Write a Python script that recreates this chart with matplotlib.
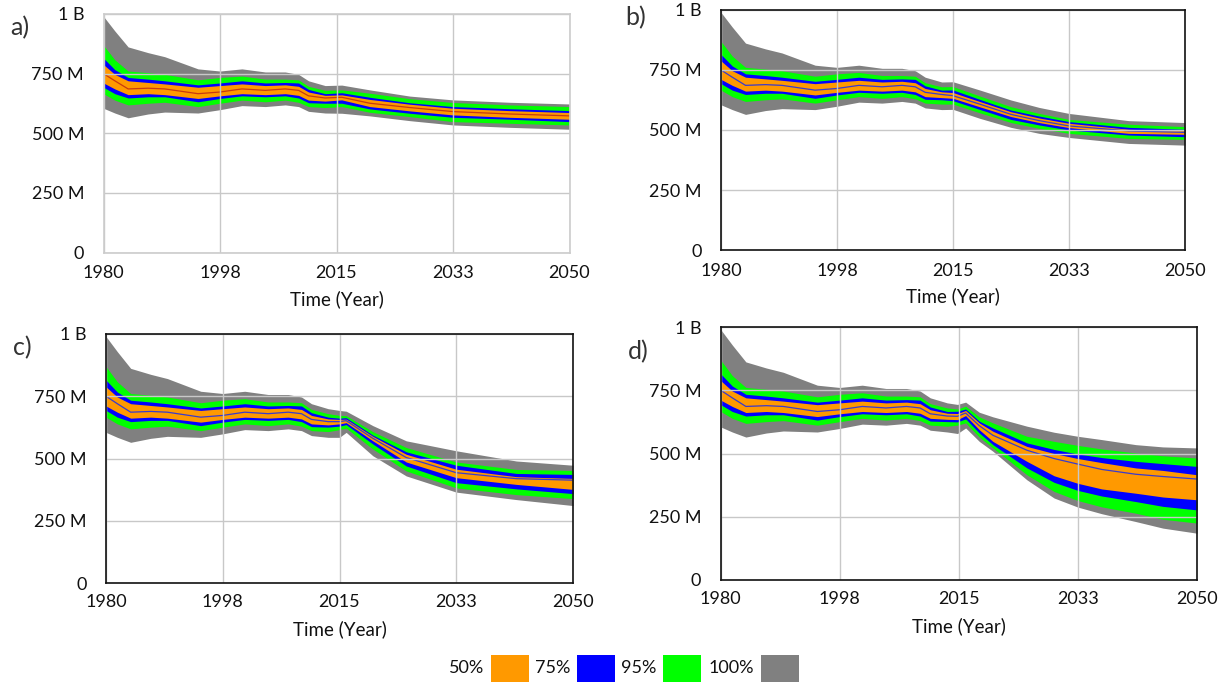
import matplotlib
matplotlib.use("Agg")
import matplotlib.pyplot as plt
from matplotlib.patches import Rectangle

plt.rcParams['font.family'] = ['Lato', 'DejaVu Sans']

# ---- Population confidence bands (millions) ----
# Shared historical run, 1980-2013
hist_years = [1980, 1981.7, 1983.7, 1986.7, 1989.2, 1994.2, 1997.5, 2000.8, 2004.3, 2007.3, 2009.3, 2010.8, 2013.3]
hist_hi100 = [990, 929, 862, 838, 821, 770, 761, 770, 757, 757, 747, 720, 700]
hist_hi95 = [869, 808, 761, 754, 747, 724, 734, 740, 727, 727, 724, 697, 680]
hist_hi75 = [815, 767, 734, 727, 720, 703, 711, 720, 711, 713, 711, 684, 666]
hist_hi50 = [788, 747, 720, 713, 707, 693, 700, 707, 700, 703, 697, 673, 659]
hist_med = [750, 720, 686, 689, 686, 666, 673, 686, 680, 686, 680, 657, 648]
hist_lo50 = [711, 686, 662, 666, 662, 646, 657, 666, 662, 666, 659, 639, 635]
hist_lo75 = [693, 666, 648, 653, 653, 632, 646, 657, 653, 657, 648, 628, 626]
hist_lo95 = [666, 639, 619, 626, 630, 612, 626, 639, 632, 639, 630, 612, 608]
hist_lo100 = [605, 585, 565, 581, 589, 585, 599, 616, 612, 619, 612, 592, 585]

# Scenario a
a_years = [2015.8, 2020, 2026, 2032.5, 2041, 2050]
a_hi100 = [702, 682, 656, 640, 630, 623]
a_hi95 = [682, 668, 645, 629, 619, 612]
a_hi75 = [670, 651, 628, 612, 603, 595]
a_hi50 = [661, 642, 622, 605, 595, 587]
a_med = [651, 626, 608, 591, 581, 573]
a_lo50 = [640, 612, 594, 577, 567, 559]
a_lo75 = [626, 602, 584, 567, 559, 549]
a_lo95 = [612, 588, 570, 549, 542, 535]
a_lo100 = [584, 573, 553, 535, 525, 517]

# Scenario b
b_years = [2015, 2019, 2023.75, 2028, 2032.5, 2041.5, 2050]
b_hi100 = [701, 667, 625, 594, 569, 539, 531]
b_hi95 = [681, 642, 597, 569, 544, 524, 514]
b_hi75 = [667, 628, 583, 558, 535, 511, 503]
b_hi50 = [656, 619, 576, 550, 528, 503, 497]
b_med = [643, 608, 565, 539, 517, 496, 490]
b_lo50 = [632, 597, 556, 531, 510, 486, 482]
b_lo75 = [622, 586, 544, 521, 500, 479, 472]
b_lo95 = [608, 572, 531, 507, 486, 465, 461]
b_lo100 = [586, 549, 511, 486, 469, 444, 437]

# Scenario c
c_years = [2015, 2016, 2020, 2025, 2032.5, 2041.5, 2050]
c_hi100 = [693, 690, 632, 571, 531, 490, 473]
c_hi95 = [673, 672, 608, 544, 486, 456, 452]
c_hi75 = [662, 664, 594, 527, 473, 440, 436]
c_hi50 = [657, 658, 589, 517, 457, 427, 420]
c_med = [648, 652, 581, 504, 443, 419, 413]
c_lo50 = [639, 644, 571, 486, 423, 396, 376]
c_lo75 = [630, 636, 558, 470, 403, 378, 359]
c_lo95 = [616, 622, 538, 450, 382, 355, 339]
c_lo100 = [585, 605, 511, 430, 365, 335, 311]

# Scenario d
d_years = [2014.8, 2016, 2018, 2020, 2025, 2029, 2032.5, 2036, 2041, 2045, 2050]
d_hi100 = [694, 703, 663, 645, 608, 584, 568, 555, 535, 526, 522]
d_hi95 = [676, 687, 645, 621, 568, 548, 532, 518, 502, 491, 482]
d_hi75 = [667, 676, 628, 601, 542, 516, 498, 484, 469, 460, 449]
d_hi50 = [658, 670, 621, 588, 528, 500, 480, 464, 443, 433, 416]
d_med = [647, 660, 610, 572, 513, 480, 458, 437, 418, 409, 399]
d_lo50 = [634, 650, 594, 548, 469, 412, 382, 360, 343, 328, 317]
d_lo75 = [625, 637, 581, 535, 443, 386, 354, 332, 310, 291, 277]
d_lo95 = [612, 621, 565, 522, 416, 350, 314, 289, 264, 240, 225]
d_lo100 = [579, 601, 548, 509, 396, 324, 288, 262, 231, 205, 185]

year_ticks = [1980, 1997.5, 2015, 2032.5, 2050]
year_labels = ["1980", "1998", "2015", "2033", "2050"]
pop_ticks = [0, 250, 500, 750, 1000]
pop_labels = ["0", "250 M", "500 M", "750 M", "1 B"]
band_labels = ["50%", "75%", "95%", "100%"]

C50, C75, C95, C100 = "#FF9900", "#0000FF", "#00FF00", "#808080"
W, H = 1228, 683

fig = plt.figure(figsize=(W / 100, H / 100), dpi=100)


def frac(left, right, y0, y1):
    """Axes rectangle from pixel edges (y0 = bottom, y1 = top)."""
    return [left / W, 1 - y0 / H, (right - left) / W, (y0 - y1) / H]


def panel(rect, years, hi100, hi95, hi75, hi50, med, lo50, lo75, lo95, lo100,
          spine_color, med_color, xpad, xlabpad):
    ax = fig.add_axes(rect)
    x = hist_years + years
    pairs = [(hist_lo100 + lo100, hist_hi100 + hi100, C100),
             (hist_lo95 + lo95, hist_hi95 + hi95, C95),
             (hist_lo75 + lo75, hist_hi75 + hi75, C75),
             (hist_lo50 + lo50, hist_hi50 + hi50, C50)]
    for lo, hi, col in pairs:
        ax.fill_between(x, lo, hi, color=col, lw=0, zorder=1)
    ax.plot(x, hist_med + med, color=med_color, lw=0.9, zorder=2)
    ax.set_xlim(1980, 2050)
    ax.set_ylim(0, 1000)
    ax.set_xticks(year_ticks, year_labels)
    ax.set_yticks(pop_ticks, pop_labels)
    ax.grid(True, color="#c8c8c8", lw=1.0, zorder=3)
    ax.set_axisbelow(False)
    ax.tick_params(axis="both", length=0, labelsize=13, colors="#111111")
    ax.tick_params(axis="y", pad=14)
    ax.tick_params(axis="x", pad=xpad)
    ax.set_xlabel("Time (Year)", fontsize=13.5, color="#111111", labelpad=xlabpad)
    for s in ax.spines.values():
        s.set_color(spine_color)
        s.set_linewidth(1.2)
        s.set_zorder(4)
    return ax


panel(frac(103.5, 569.5, 252.6, 14), a_years, a_hi100, a_hi95, a_hi75, a_hi50,
      a_med, a_lo50, a_lo75, a_lo95, a_lo100, "#cccccc", "#c83a10", 9, 6.5)
panel(frac(721, 1185, 250, 10), b_years, b_hi100, b_hi95, b_hi75, b_hi50,
      b_med, b_lo50, b_lo75, b_lo95, b_lo100, "#111111", "#3a3acc", 9, 6.5)
panel(frac(106, 573, 583, 334), c_years, c_hi100, c_hi95, c_hi75, c_hi50,
      c_med, c_lo50, c_lo75, c_lo95, c_lo100, "#111111", "#3a3acc", 8, 7)
panel(frac(720.7, 1197, 580, 327), d_years, d_hi100, d_hi95, d_hi75, d_hi50,
      d_med, d_lo50, d_lo75, d_lo95, d_lo100, "#111111", "#3a3acc", 8, 7)

for txt, px, py in [("a)", 20, 28), ("b)", 636, 18), ("c)", 22, 348), ("d)", 638, 352)]:
    fig.text(px / W, 1 - py / H, txt, fontsize=18, color="#333333",
             ha="center", va="center")

# Band legend along the bottom
legend_colors = [C50, C75, C95, C100]
text_x = [467, 553, 639, 731]
box_x = [491, 577, 663, 761]
for lab, col, tx, bx in zip(band_labels, legend_colors, text_x, box_x):
    fig.text(tx / W, 1 - 668 / H, lab, fontsize=13, color="#111111",
             ha="center", va="center")
    fig.add_artist(Rectangle((bx / W, 1 - 682 / H), 38 / W, 27 / H,
                             transform=fig.transFigure, facecolor=col,
                             edgecolor="none"))

fig.savefig("out.png", dpi=100)
